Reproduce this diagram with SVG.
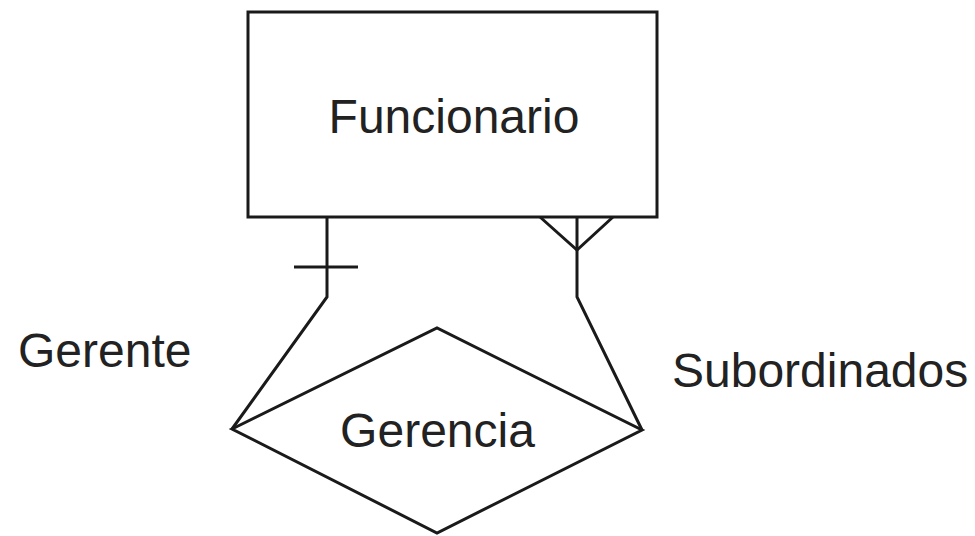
<svg xmlns="http://www.w3.org/2000/svg" width="975" height="536" viewBox="0 0 975 536">
<style>
.shape{fill:#fff;stroke:#1a1a1a;stroke-width:3}
.line{fill:none;stroke:#1a1a1a;stroke-width:3}
.t{font-family:"Liberation Sans",Arial,sans-serif;font-size:48px;fill:#222}
</style>
<rect width="975" height="536" fill="#fff"/>
<g id="funcionario">
<rect class="shape" x="248" y="12" width="409" height="205"/>
<text class="t" x="454" y="133" text-anchor="middle">Funcionario</text>
</g>
<g id="gerencia">
<polygon class="shape" points="232,429 437,328 642,430 437,533"/>
<text class="t" x="437.5" y="447" text-anchor="middle">Gerencia</text>
</g>
<g id="connectors">
<polyline class="line" points="327,217 327,297 232,429"/>
<line class="line" x1="294" y1="267" x2="358" y2="267"/>
<polyline class="line" points="577,217 577,297 642,430"/>
<polyline class="line" points="540,217 577,250 613,217"/>
</g>
<g id="labels">
<text class="t" x="18" y="367">Gerente</text>
<text class="t" x="672" y="387">Subordinados</text>
</g>
</svg>
